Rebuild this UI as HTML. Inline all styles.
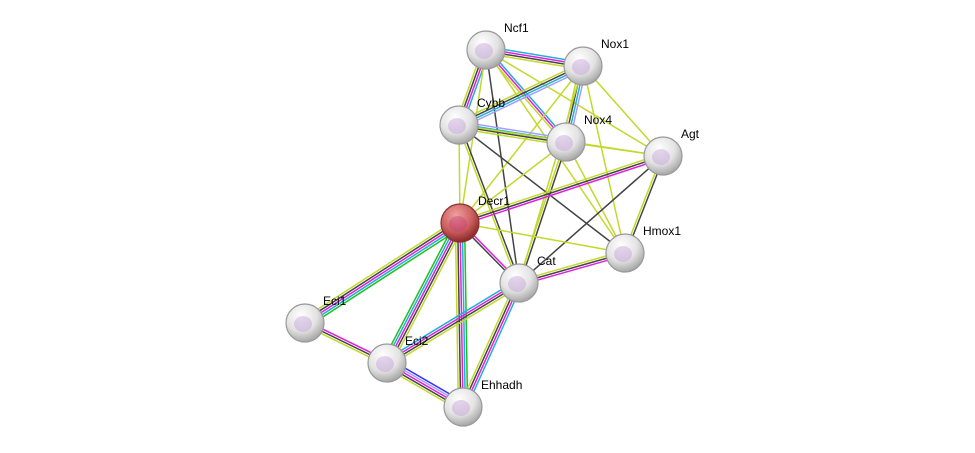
<!DOCTYPE html>
<html><head><meta charset="utf-8"><style>
html,body{margin:0;padding:0;background:#fff;width:975px;height:453px;overflow:hidden}
svg{display:block}
text{font-family:"Liberation Sans",sans-serif;font-size:12px;fill:#000}
</style></head><body>
<svg id="s" width="975" height="453" xmlns="http://www.w3.org/2000/svg">
<defs>
<radialGradient id="g" cx="40%" cy="30%" r="70%">
<stop offset="0" stop-color="#ffffff"/><stop offset="0.6" stop-color="#e2e2e2"/><stop offset="1" stop-color="#a8a8a8"/>
</radialGradient>
<radialGradient id="r" cx="40%" cy="30%" r="70%">
<stop offset="0" stop-color="#f0a0a0"/><stop offset="0.6" stop-color="#cc5f5f"/><stop offset="1" stop-color="#8c2a2a"/>
</radialGradient>
</defs>
<g id="edges"></g>
<g id="nodes"></g>
</svg>
<script>
var N={Ncf1:[486,50],Nox1:[583,66],Cybb:[459,125],Nox4:[566,142],Agt:[663,156],Decr1:[460,223],Hmox1:[625,253],Cat:[519,283],Eci1:[305,323],Eci2:[387,363],Ehhadh:[463,407]};
var C={y:"#c2d92c",k:"#444",m:"#e020e0",c:"#20b0d8",l:"#a0a0ff",g:"#20c020",b:"#3030ff"};
var E=[["Ncf1","Nox1","cmky"],["Ncf1","Cybb","cmky"],["Ncf1","Nox4","cmy"],["Ncf1","Agt","y"],["Ncf1","Hmox1","y"],["Ncf1","Cat","k"],["Ncf1","Decr1","y"],
["Nox1","Cybb","lcky"],["Nox1","Nox4","lcky"],["Nox1","Agt","y"],["Nox1","Hmox1","y"],["Nox1","Decr1","y"],["Nox1","Cat","y"],
["Cybb","Nox4","lcky"],["Cybb","Decr1","y"],["Cybb","Cat","ky"],["Cybb","Hmox1","k"],["Cybb","Agt","y"],
["Nox4","Agt","y"],["Nox4","Cat","ky"],["Nox4","Hmox1","y"],["Nox4","Decr1","y"],
["Agt","Decr1","mky"],["Agt","Cat","k"],["Agt","Hmox1","ky"],["Decr1","Hmox1","y"],["Decr1","Cat","mk"],
["Decr1","Eci1","gcmky"],["Decr1","Eci2","ykmcg"],["Decr1","Ehhadh","gcmky"],
["Cat","Hmox1","ykm"],["Cat","Eci2","ykmc"],["Cat","Ehhadh","cmky"],["Eci1","Eci2","mky"],["Eci2","Ehhadh","blmky"]];
var ns="http://www.w3.org/2000/svg",eg=document.getElementById("edges"),ng=document.getElementById("nodes");
E.forEach(function(e){var a=N[e[0]],b=N[e[1]],dx=b[0]-a[0],dy=b[1]-a[1],L=Math.hypot(dx,dy),px=-dy/L,py=dx/L,n=e[2].length;
for(var i=0;i<n;i++){var o=(i-(n-1)/2)*2.3;var l=document.createElementNS(ns,"line");
l.setAttribute("x1",a[0]+px*o);l.setAttribute("y1",a[1]+py*o);l.setAttribute("x2",b[0]+px*o);l.setAttribute("y2",b[1]+py*o);
l.setAttribute("stroke",C[e[2][i]]);l.setAttribute("stroke-width","1.5");eg.appendChild(l);}});
for(var k in N){var p=N[k],c=document.createElementNS(ns,"circle");c.setAttribute("cx",p[0]);c.setAttribute("cy",p[1]);c.setAttribute("r",19);
c.setAttribute("fill",k=="Decr1"?"url(#r)":"url(#g)");c.setAttribute("stroke",k=="Decr1"?"#8a3030":"#999");c.setAttribute("stroke-width","1.2");ng.appendChild(c);
var h=document.createElementNS(ns,"ellipse");h.setAttribute("cx",p[0]-2);h.setAttribute("cy",p[1]+1);h.setAttribute("rx",9);h.setAttribute("ry",8);h.setAttribute("fill",k=="Decr1"?"#c0307a":"#b68ad0");h.setAttribute("opacity","0.35");ng.appendChild(h);
var t=document.createElementNS(ns,"text");t.setAttribute("x",p[0]+18);t.setAttribute("y",p[1]-18);t.textContent=k;ng.appendChild(t);}
</script>
</body></html>
